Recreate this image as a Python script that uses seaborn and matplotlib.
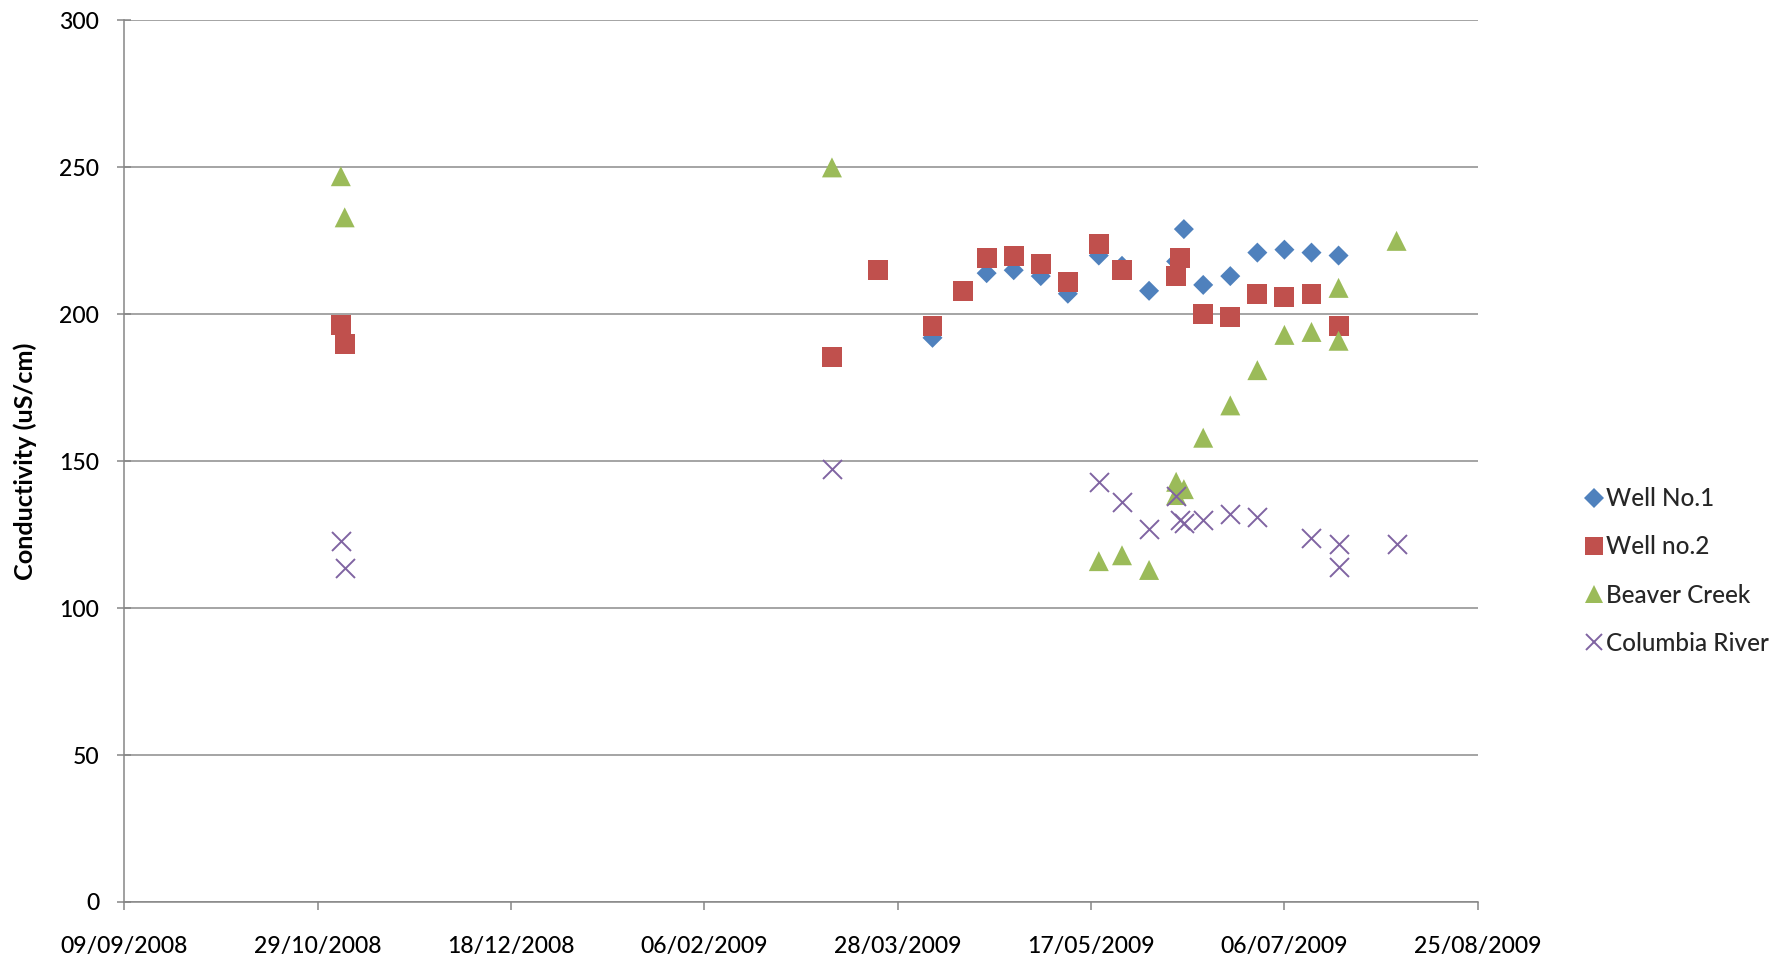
import matplotlib
matplotlib.use("Agg")
import matplotlib.pyplot as plt
import matplotlib.dates as mdates
from matplotlib.lines import Line2D
import pandas as pd
import seaborn as sns

# Conductivity readings (uS/cm) by sampling date
well1_dates = ["2009-04-06", "2009-04-20", "2009-04-27", "2009-05-04", "2009-05-11",
               "2009-05-19", "2009-05-25", "2009-06-01", "2009-06-08", "2009-06-10",
               "2009-06-15", "2009-06-22", "2009-06-29", "2009-07-06", "2009-07-13",
               "2009-07-20"]
well1_values = [192, 214, 215, 213, 207, 220, 216.5, 208, 218, 229,
                210, 213, 221, 222, 221, 220]

well2_dates = ["2008-11-04", "2008-11-05", "2009-03-11", "2009-03-23", "2009-04-06",
               "2009-04-14", "2009-04-20", "2009-04-27", "2009-05-04", "2009-05-11",
               "2009-05-19", "2009-05-25", "2009-06-08", "2009-06-09", "2009-06-15",
               "2009-06-22", "2009-06-29", "2009-07-06", "2009-07-13", "2009-07-20"]
well2_values = [196.5, 190, 185.5, 215, 196, 208, 219, 220, 217, 211,
                224, 215, 213, 219, 200, 199, 207, 206, 207, 196]

beaver_dates = ["2008-11-04", "2008-11-05", "2009-03-11", "2009-05-19", "2009-05-25",
                "2009-06-01", "2009-06-08", "2009-06-08", "2009-06-10", "2009-06-15",
                "2009-06-22", "2009-06-29", "2009-07-06", "2009-07-13", "2009-07-20",
                "2009-07-20", "2009-08-04"]
beaver_values = [247, 233, 250, 116, 118, 113, 143, 138.5, 140.5, 158,
                 169, 181, 193, 194, 209, 191, 225]

columbia_dates = ["2008-11-04", "2008-11-05", "2009-03-11", "2009-05-19", "2009-05-25",
                  "2009-06-01", "2009-06-08", "2009-06-09", "2009-06-10", "2009-06-15",
                  "2009-06-22", "2009-06-29", "2009-07-13", "2009-07-20", "2009-07-20",
                  "2009-08-04"]
columbia_values = [123, 113.5, 147.5, 143, 136, 127, 138, 130, 129, 130,
                   132, 131, 124, 122, 114, 122]

series_names = ["Well No.1", "Well no.2", "Beaver Creek", "Columbia River"]
y_ticks = [0, 50, 100, 150, 200, 250, 300]

sns.set_theme(style="white")
plt.rcParams["font.family"] = ["Lato", "DejaVu Sans"]

fig = plt.figure(figsize=(17.88, 9.61), dpi=100)
ax = fig.add_axes([0.0695, 0.0614, 0.7570, 0.9173])

styles = [
    # marker, colour, scatter size, legend marker size
    ("D", "#4F81BD", 104, 9.7),
    ("s", "#C0504D", 207, 13.0),
    ("^", "#9BBB59", 207, 13.0),
    ("x", "#8064A2", 187, 12.2),
]
data = [(well1_dates, well1_values), (well2_dates, well2_values),
        (beaver_dates, beaver_values), (columbia_dates, columbia_values)]

handles = []
for name, (dates, values), (marker, color, size, leg_size) in zip(series_names, data, styles):
    df = pd.DataFrame({"date": pd.to_datetime(dates), "value": values})
    if marker == "x":
        sns.scatterplot(data=df, x="date", y="value", marker=marker, color=color,
                        s=size, linewidth=1.4, ax=ax, zorder=3)
        handles.append(Line2D([], [], linestyle="none", marker=marker, color=color,
                              markersize=leg_size, markeredgewidth=1.4, label=name))
    else:
        sns.scatterplot(data=df, x="date", y="value", marker=marker, color=color,
                        s=size, linewidth=0, edgecolor="none", ax=ax, zorder=3)
        handles.append(Line2D([], [], linestyle="none", marker=marker, color=color,
                              markersize=leg_size, markeredgewidth=0, label=name))

# Axes
ax.set_ylim(0, 300)
ax.set_yticks(y_ticks)
start = pd.Timestamp("2008-09-09")
end = pd.Timestamp("2009-08-25")
ax.set_xlim(start, end)
ax.set_xticks(pd.date_range(start, end, freq="50D"))
ax.xaxis.set_major_formatter(mdates.DateFormatter("%d/%m/%Y"))

ax.set_xlabel("")
ax.set_ylabel("Conductivity (uS/cm)", fontsize=18.2, fontweight="bold", color="black")
ax.yaxis.set_label_coords(-0.0645, 0.5)

ax.yaxis.grid(True, color="#8c8c8c", linewidth=1.1)
ax.xaxis.grid(False)
ax.set_axisbelow(True)

for side in ("top", "right"):
    ax.spines[side].set_visible(False)
for side in ("left", "bottom"):
    ax.spines[side].set_color("#868686")
    ax.spines[side].set_linewidth(1.1)

ax.tick_params(axis="y", direction="inout", length=10, width=1.1, color="#868686",
               pad=13, labelsize=16.6, labelcolor="black", left=True)
ax.tick_params(axis="x", direction="out", length=6, width=1.1, color="#868686",
               pad=18.5, labelsize=16.6, labelcolor="black", bottom=True)
for lbl in ax.get_xticklabels() + ax.get_yticklabels():
    lbl.set_fontweight("medium")

leg = ax.legend(handles=handles, loc="center left", bbox_to_anchor=(1584 / 1788, 0.4058),
                bbox_transform=fig.transFigure, frameon=False,
                prop={"size": 17.5, "weight": "medium"},
                handlelength=0.8, handletextpad=0.11, labelspacing=1.04, borderpad=0,
                borderaxespad=0)

fig.savefig("out.png", dpi=100)
